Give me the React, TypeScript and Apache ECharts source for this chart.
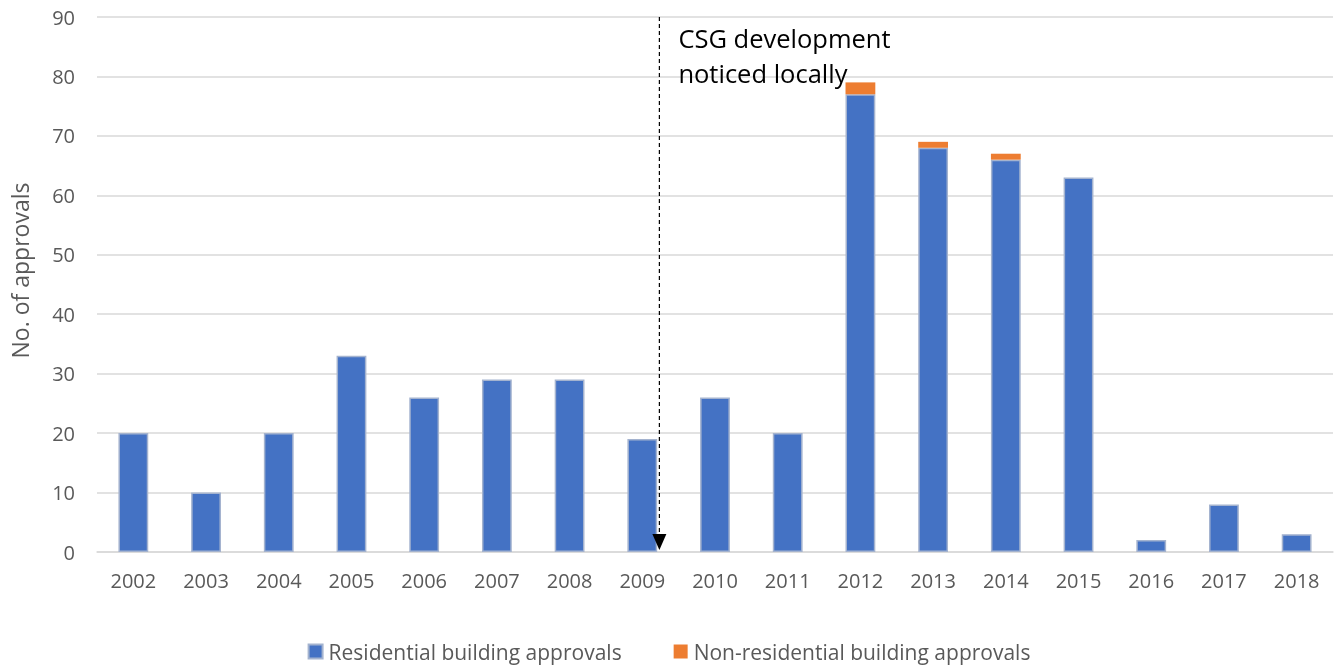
import React, { useEffect, useRef } from "react";
import * as echarts from "echarts";

const years = ["2002","2003","2004","2005","2006","2007","2008","2009","2010","2011","2012","2013","2014","2015","2016","2017","2018"];
const residential = [20,10,20,33,26,29,29,19,26,20,77,68,66,63,2,8,3];
const nonResidential = [0,0,0,0,0,0,0,0,0,0,2,1,1,0,0,0,0];
const yTicks = { min: 0, max: 90, interval: 10 };
const annotationLines = ["CSG development", "noticed locally"];
const annotationYear = "2009";

const FONT = "'Open Sans', sans-serif";

export default function App() {
  const ref = useRef<HTMLDivElement>(null);
  useEffect(() => {
    if (!ref.current) return;
    const chart = echarts.init(ref.current, undefined, { renderer: "svg" });
    chart.setOption({
      animation: false,
      textStyle: { fontFamily: FONT },
      grid: { left: 97, right: 5, top: 17, bottom: 113 },
      legend: {
        top: 636,
        left: "center",
        itemWidth: 14,
        itemHeight: 14,
        itemGap: 52,
        icon: "rect",
        textStyle: { fontSize: 21, color: "#595959", fontFamily: FONT, padding: [0, 0, 0, 1] },
        data: ["Residential building approvals", "Non-residential building approvals"],
      },
      xAxis: {
        type: "category",
        data: years,
        axisTick: { show: false },
        axisLine: { lineStyle: { color: "#d9d9d9", width: 1.5 } },
        axisLabel: { fontSize: 20, color: "#595959", margin: 18, fontFamily: FONT },
      },
      yAxis: {
        type: "value",
        min: yTicks.min,
        max: yTicks.max,
        interval: yTicks.interval,
        name: "No. of approvals",
        nameLocation: "middle",
        nameGap: 66,
        nameTextStyle: { fontSize: 23, color: "#595959", fontFamily: FONT, padding: [0, 0, 0, 28] },
        axisLabel: { fontSize: 20, color: "#595959", margin: 22, fontFamily: FONT },
        splitLine: { lineStyle: { color: "#d9d9d9", width: 1.5 } },
        axisLine: { show: false },
        axisTick: { show: false },
      },
      series: [
        {
          name: "Residential building approvals",
          type: "bar",
          stack: "total",
          data: residential,
          barWidth: "41%",
          itemStyle: { color: "#4472C4", borderColor: "#a4b3cf", borderWidth: 1.5 },
        },
        {
          name: "Non-residential building approvals",
          type: "bar",
          stack: "total",
          data: nonResidential.map((v) => (v === 0 ? null : v)),
          barWidth: "41%",
          itemStyle: { color: "#ED7D31" },
        },
      ],
    });

    const cx = chart.convertToPixel({ xAxisIndex: 0 }, annotationYear) as number;
    const cx2 = chart.convertToPixel({ xAxisIndex: 0 }, years[years.indexOf(annotationYear) + 1]) as number;
    const x = cx + (cx2 - cx) * 0.235;
    const yTop = chart.convertToPixel({ yAxisIndex: 0 }, yTicks.max) as number;
    const yBot = chart.convertToPixel({ yAxisIndex: 0 }, 0) as number;
    chart.setOption({
      graphic: [
        {
          type: "line",
          z: 100,
          shape: { x1: x, y1: yTop, x2: x, y2: yBot - 16 },
          style: { stroke: "#000", lineWidth: 1.2, lineDash: [4, 3] },
          silent: true,
        },
        {
          type: "polygon",
          z: 100,
          shape: { points: [[x - 7, yBot - 18], [x + 7, yBot - 18], [x, yBot - 2]] },
          style: { fill: "#000" },
          silent: true,
        },
        {
          type: "text",
          z: 100,
          x: x + 19,
          y: 20,
          style: {
            text: annotationLines.join("\n"),
            font: `25.5px ${FONT}`,
            fill: "#000",
            lineHeight: 35,
          },
          silent: true,
        },
      ],
    });
    return () => chart.dispose();
  }, []);
  return <div ref={ref} style={{ position: "fixed", left: 0, top: 0, width: 1338, height: 665 }} />;
}
